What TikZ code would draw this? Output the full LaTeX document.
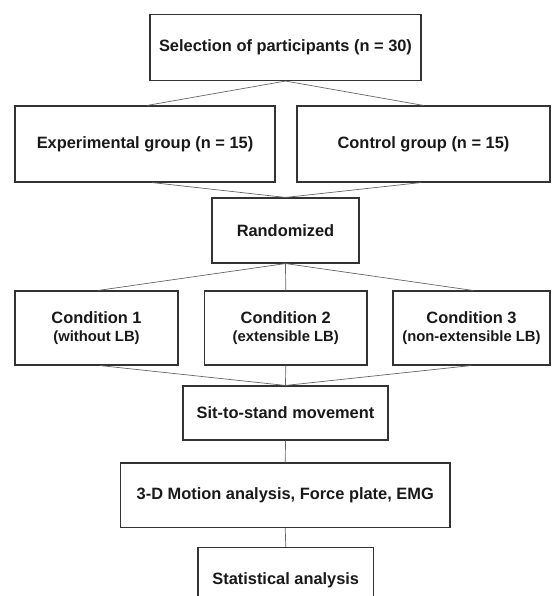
\documentclass[tikz,border=0pt]{standalone}
\usepackage{fontspec}
\setmainfont{Liberation Sans}
\begin{document}
\begin{tikzpicture}[x=1pt,y=1pt,
  box/.style={draw=black!80, line width=1.1pt, fill=white, inner sep=0pt, align=center,
    font=\fontsize{16.4}{19}\selectfont\bfseries, text=black!90},
  conn/.style={draw=black!60, line width=0.7pt}]
\useasboundingbox (0,0) rectangle (551,-596);
\newcommand{\subline}[1]{{\fontsize{14.8}{17}\selectfont #1}}
\node[box, minimum width=271, minimum height=66] (sel) at (285.5,-47.5) {Selection of participants (n = 30)};
\node[box, minimum width=260, minimum height=76] (exp) at (145,-144) {Experimental group (n = 15)};
\node[box, minimum width=253, minimum height=76] (ctl) at (423.5,-144) {Control group (n = 15)};
\node[box, minimum width=147, minimum height=65] (rand) at (285.5,-230.5) {Randomized};
\node[box, minimum width=163, minimum height=74] (c1) at (96.5,-328) {Condition 1\\[-0.5pt]\subline{(without LB)}};
\node[box, minimum width=162.5, minimum height=74] (c2) at (285.75,-328) {Condition 2\\[-0.5pt]\subline{(extensible LB)}};
\node[box, minimum width=157, minimum height=74] (c3) at (471.5,-328) {Condition 3\\[-0.5pt]\subline{(non-extensible LB)}};
\node[box, minimum width=205, minimum height=54] (sit) at (285.5,-413) {Sit-to-stand movement};
\node[box, minimum width=329.5, minimum height=64.6] (mot) at (285.25,-495.3) {3-D Motion analysis, Force plate, EMG};
\node[box, minimum width=175.5, minimum height=65] (stat) at (285.75,-580) {Statistical analysis};
\draw[conn] (sel.south) -- ([xshift=2pt]exp.north);
\draw[conn] (sel.south) -- (ctl.north);
\draw[conn] ([xshift=7pt]exp.south) -- (rand.north);
\draw[conn] ([xshift=-2.5pt]ctl.south) -- (rand.north);
\draw[conn] (rand.south) -- ([xshift=1.5pt]c1.north);
\draw[conn] (rand.south) -- (c2.north);
\draw[conn] (rand.south) -- ([xshift=1.5pt]c3.north);
\draw[conn] ([xshift=3.5pt]c1.south) -- (sit.north);
\draw[conn] (c2.south) -- (sit.north);
\draw[conn] ([xshift=-0.5pt]c3.south) -- (sit.north);
\draw[conn] (sit.south) -- (mot.north);
\draw[conn] (mot.south) -- (stat.north);
\end{tikzpicture}
\end{document}
